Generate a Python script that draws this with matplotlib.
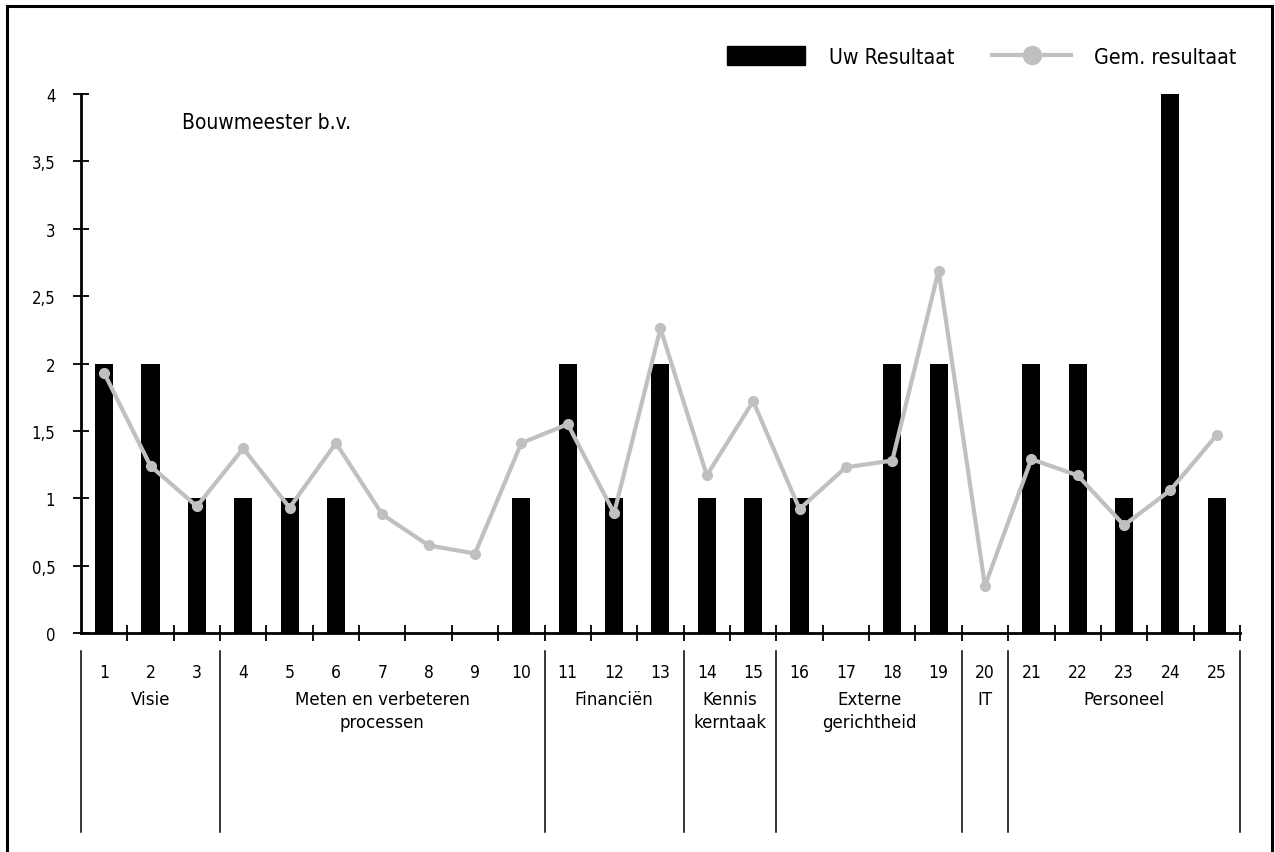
import matplotlib
matplotlib.use("Agg")
import matplotlib.pyplot as plt
from matplotlib.lines import Line2D
from matplotlib.patches import Patch, Rectangle
import matplotlib.transforms as mtransforms

plt.rcParams["font.family"] = ["DejaVu Sans"]
plt.rcParams["font.stretch"] = "condensed"

# data
categories = list(range(1, 26))
uw_resultaat = [2, 2, 1, 1, 1, 1, 0, 0, 0, 1, 2, 1, 2, 1, 1, 1, 0, 2, 2, 0, 2, 2, 1, 4, 1]
gem_resultaat = [1.93, 1.24, 0.94, 1.37, 0.93, 1.41, 0.88, 0.65, 0.59, 1.41,
                 1.55, 0.89, 2.26, 1.17, 1.72, 0.92, 1.23, 1.28, 2.69, 0.35,
                 1.29, 1.17, 0.80, 1.06, 1.47]
y_ticks = [0, 0.5, 1, 1.5, 2, 2.5, 3, 3.5, 4]
y_ticklabels = ["0", "0,5", "1", "1,5", "2", "2,5", "3", "3,5", "4"]
groups = ["Visie", "Meten en verbeteren\nprocessen", "Financiën", "Kennis\nkerntaak",
          "Externe\ngerichtheid", "IT", "Personeel"]
group_sizes = [3, 7, 3, 2, 4, 1, 5]

GREY = "#c0c0c0"

fig = plt.figure(figsize=(12.75, 8.53), dpi=100)
ax = fig.add_axes([0.0635, 0.2567, 0.909, 0.6319])

ax.bar(categories, uw_resultaat, width=0.39, color="black", zorder=2)
ax.plot(categories, gem_resultaat, color=GREY, linewidth=3, marker="o",
        markersize=7, zorder=3)

ax.set_xlim(0.5, 25.5)
ax.set_ylim(0, 4)
ax.set_yticks(y_ticks)
ax.set_yticklabels(y_ticklabels, fontsize=12)
ax.tick_params(axis="y", direction="inout", length=11, width=1.3, pad=13)
ax.set_xticks([c + 0.5 for c in categories])
ax.set_xticklabels([])
ax.tick_params(axis="x", direction="inout", length=11, width=1.3)
for side in ("top", "right"):
    ax.spines[side].set_visible(False)
for side in ("left", "bottom"):
    ax.spines[side].set_linewidth(2)

# category numbers and group labels below the axis
trans = mtransforms.blended_transform_factory(ax.transData, ax.transAxes)
for c in categories:
    ax.text(c, -0.072, str(c), transform=trans, ha="center", va="center", fontsize=12.5)

start = 0.5
bounds = [start]
for name, size in zip(groups, group_sizes):
    end = start + size
    ax.text((start + end) / 2, -0.105, name, transform=trans, ha="center", va="top",
            fontsize=13.3, linespacing=1.35)
    bounds.append(end)
    start = end
for b in bounds:
    ax.plot([b, b], [-0.033, -0.369], transform=trans, color="black", linewidth=1.1,
            clip_on=False)

ax.text(0.087, 0.948, "Bouwmeester b.v.", transform=ax.transAxes, ha="left",
        va="center", fontsize=15)

handles = [
    Patch(facecolor="black", edgecolor="black"),
    Line2D([], [], color=GREY, linewidth=3, marker="o", markersize=13),
]
fig.legend(handles, ["Uw Resultaat", "Gem. resultaat"], loc="upper right",
           bbox_to_anchor=(0.985, 0.967), ncol=2, frameon=False, fontsize=15.3,
           handlelength=3.7, handleheight=1.0, handletextpad=1.1,
           columnspacing=1.8)

# outer frame (bottom edge runs off the picture)
fig.patches.append(Rectangle((0.0055, -0.05), 0.9921, 1.0418, transform=fig.transFigure,
                             fill=False, edgecolor="black", linewidth=2.2))

fig.savefig("out.png", dpi=100)
